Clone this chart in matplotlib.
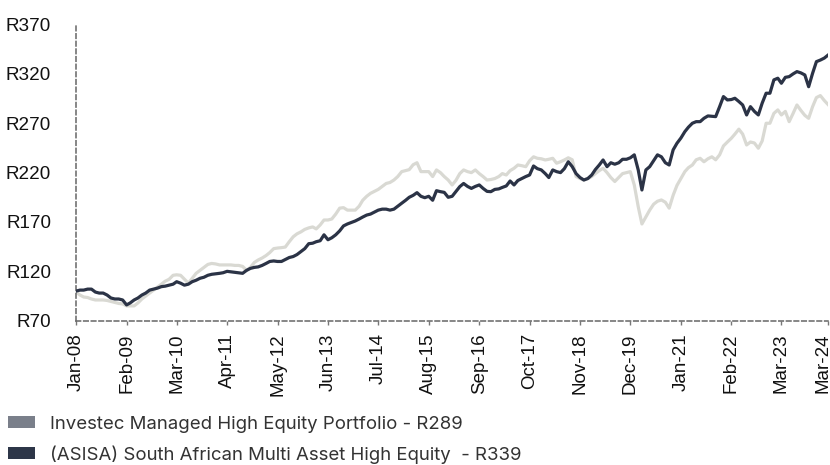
import matplotlib
matplotlib.use("Agg")
import matplotlib.pyplot as plt
from matplotlib.patches import Patch
import matplotlib.transforms as mtransforms
import pandas as pd

# Monthly values Jan-2008 .. Mar-2024 (195 points)
asisa = [
    100, 101, 101, 102, 102, 99, 98, 98, 96, 93, 92, 92,
    91, 86, 88, 91, 93, 96, 98, 101, 102, 103, 104.5, 105,
    106, 107, 109.5, 108, 106, 107, 109.5, 111, 113, 114, 116, 117,
    117.5, 118, 118.6, 120, 119.5, 119, 118.5, 118, 121, 123, 124, 124.5,
    126, 128, 130, 130.5, 130, 130, 132, 134, 135, 137, 140, 143,
    148, 148.5, 150, 151, 157, 152, 154, 157, 161, 166, 168, 169.5,
    171, 173, 175, 177, 178, 180, 182, 183, 183, 182, 183, 186,
    189, 192, 195, 197, 199.7, 196, 194.6, 196, 192, 201.7, 200.7, 200,
    195, 196, 200.7, 205.8, 209, 206, 204, 206, 207.5, 204, 201, 200.7,
    203, 203.5, 205, 206.5, 211.5, 207.5, 212, 214, 216, 217.6, 226.7, 224,
    222.7, 219, 215, 222.7, 221, 220, 224, 231, 226, 219, 215, 212.5,
    214, 217.6, 223, 227.7, 232.8, 226, 230, 228.5, 230, 233.5, 233.5, 235,
    238, 222.7, 202.4, 222.7, 226, 232, 238, 236, 230, 227.7, 243, 249.7,
    255, 261.5, 266, 270, 271.6, 271.6, 275, 277.4, 277, 276.7, 286.8, 297,
    293.6, 294, 295.3, 292, 288.5, 278.4, 286.8, 282, 278.4, 290.3, 300.4, 300.4,
    313.9, 315.6, 310.5, 316.5, 317.2, 320, 322.3, 321, 318.9, 307, 320.6, 332.4,
    334, 336, 339,
]

investec = [
    99, 96, 94, 93.5, 92, 91, 91, 91, 90.5, 89.5, 88.5, 87.5,
    87, 85, 85, 85, 88, 92, 95, 98, 101, 104, 107, 110,
    112, 116, 116.5, 116, 112, 108, 113, 118, 121, 124, 127, 128,
    127.5, 126.5, 126.5, 126.5, 126.5, 126, 126, 125, 121, 124, 129, 131.5,
    133.5, 136, 139, 143, 143.6, 144, 144.6, 150, 155, 158, 160, 162.5,
    164, 165, 163, 167, 172, 172, 173, 178, 184, 184.5, 182, 182,
    182, 186, 192, 196, 199, 201, 203, 206, 209, 210, 212.5, 216,
    221, 222, 223, 228, 230, 221, 221, 221, 216, 222.7, 220, 216,
    212.5, 207.5, 212, 219, 222.7, 221, 220, 222.7, 219, 216, 212.5, 213,
    214, 216, 219, 217.6, 222, 224.4, 227.7, 227, 226, 232, 236, 234.5,
    234, 232.8, 233.5, 234.5, 229.5, 231, 232.8, 235, 233, 216, 214, 212.5,
    214, 216, 219, 222, 224.4, 220, 215, 211, 215, 219, 220, 221,
    207.5, 185.5, 168, 175, 182, 188, 191, 192.3, 190, 184, 197, 207,
    214, 221, 225, 227.7, 233, 234.5, 231, 234, 236, 233, 238, 247,
    251, 254.8, 259, 264, 259, 248, 251, 250, 244.7, 252, 270, 270,
    280, 283.5, 278.4, 282, 271.6, 280, 288.5, 283, 278, 275, 286.8, 296,
    298, 293, 289,
]

tick_labels = ["Jan-08", "Feb-09", "Mar-10", "Apr-11", "May-12", "Jun-13",
               "Jul-14", "Aug-15", "Sep-16", "Oct-17", "Nov-18", "Dec-19",
               "Jan-21", "Feb-22", "Mar-23", "Mar-24"]
y_ticks = [70, 120, 170, 220, 270, 320, 370]
legend_labels = ["Investec Managed High Equity Portfolio - R289",
                 "(ASISA) South African Multi Asset High Equity  - R339"]

dates = pd.date_range("2008-01-01", periods=len(asisa), freq="MS")
tick_dates = pd.to_datetime(tick_labels, format="%b-%y")

DARK = "#2b3346"
LIGHT = "#d9d9d3"

fig = plt.figure(figsize=(8.3, 4.65), dpi=100)
ax = fig.add_axes([0.0916, 0.3103, 0.906, 0.637])

ax.plot(dates, investec, color=LIGHT, lw=2.3, solid_joinstyle="round", zorder=2)
ax.plot(dates, asisa, color=DARK, lw=2.3, solid_joinstyle="round", zorder=3)

ax.set_xlim(dates[0], dates[-1])
ax.set_ylim(70, 370)
ax.set_yticks(y_ticks)
ax.set_yticklabels([f"R{v}" for v in y_ticks], fontsize=13.6,
                   family="Liberation Sans", color="#111111")
ax.set_xticks(tick_dates)
ax.set_xticklabels(tick_labels, rotation=90, fontsize=13.5,
                   family="Liberation Sans", color="#111111")

ax.tick_params(axis="y", length=0, pad=18)
ax.tick_params(axis="x", length=3, width=1, color="#777777", pad=6)

# keep last label inside the canvas
last = ax.get_xticklabels()[-1]
last.set_transform(last.get_transform() +
                   mtransforms.ScaledTranslation(-5 / 100, 0, fig.dpi_scale_trans))

for s in ["top", "right"]:
    ax.spines[s].set_visible(False)
for s in ["left", "bottom"]:
    ax.spines[s].set_linestyle((0, (3, 2)))
    ax.spines[s].set_color("#666666")
    ax.spines[s].set_linewidth(1.1)

handles = [Patch(facecolor="#7a7f8a", edgecolor="none"),
           Patch(facecolor="#2d3648", edgecolor="none")]
leg = fig.legend(handles, legend_labels, loc="upper left",
                 bbox_to_anchor=(0.01, 0.106), frameon=False,
                 prop={"family": "Inter", "size": 13.4},
                 handlelength=1.45, handleheight=0.62, handletextpad=0.8,
                 labelspacing=0.68, borderaxespad=0, borderpad=0)
for t in leg.get_texts():
    t.set_color("#333333")

fig.savefig("out.png", dpi=100)
